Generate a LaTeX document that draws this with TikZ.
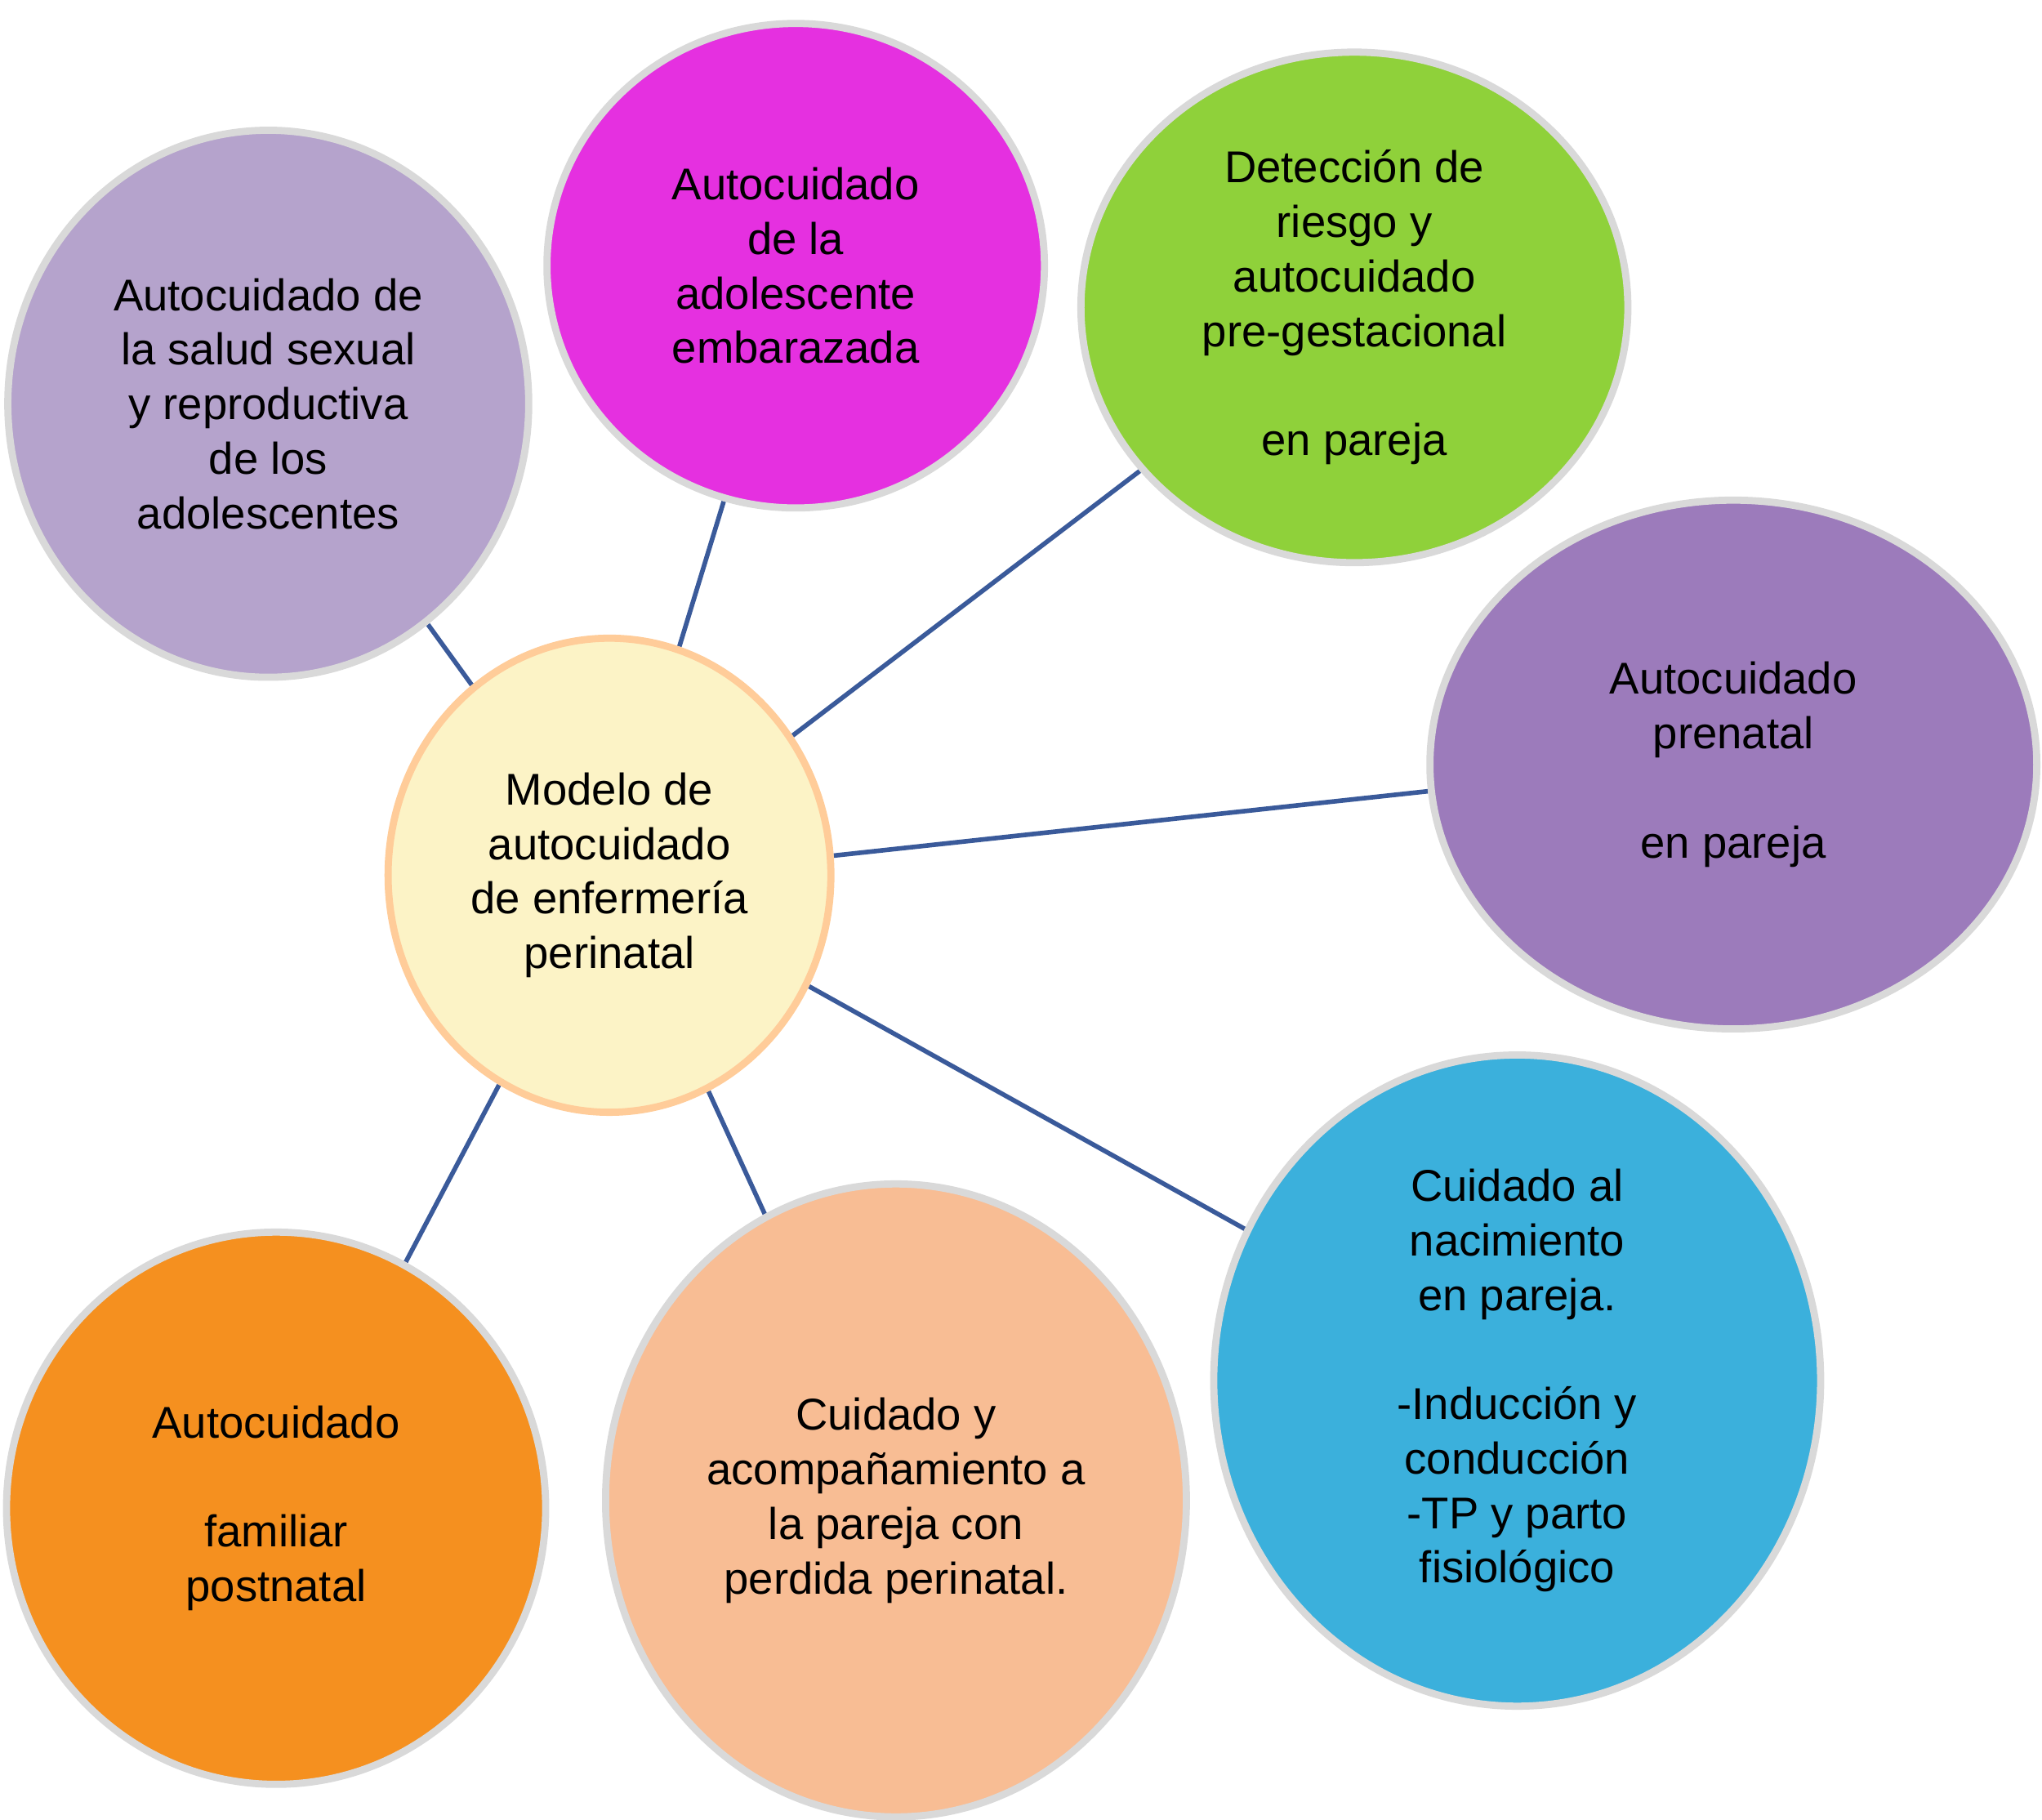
\documentclass[tikz,border=0pt]{standalone}
\usepackage{fontspec}
\setmainfont{Liberation Sans}
\usetikzlibrary{shapes.geometric, positioning, backgrounds}
\definecolor{lavender}{RGB}{181,163,204}
\definecolor{magentab}{RGB}{229,48,224}
\definecolor{greenb}{RGB}{143,209,58}
\definecolor{purpleb}{RGB}{156,123,187}
\definecolor{blueb}{RGB}{59,176,220}
\definecolor{peachb}{RGB}{248,189,148}
\definecolor{orangeb}{RGB}{245,144,31}
\definecolor{centerb}{RGB}{252,243,198}
\definecolor{linkb}{RGB}{58,90,154}

\begin{document}
\begin{tikzpicture}[
    x=0.01594cm, y=-0.01594cm,
    bubble/.style={ellipse, draw=white!85!black, line width=2.5pt, inner sep=0pt, align=center, font=\fontsize{15.5}{19}\selectfont},
    link/.style={draw=linkb, line width=1.6pt}
]
\useasboundingbox (0,0) rectangle (1568,1397);

% Central node
\node[bubble, fill=centerb, draw=orange!40, minimum width=340*0.01594cm, minimum height=364*0.01594cm] (model) at (468,672) {Modelo de\\autocuidado\\de enfermería\\perinatal};

% Outer bubbles
\node[bubble, fill=lavender, minimum width=400*0.01594cm, minimum height=420*0.01594cm] (sexual) at (206,310) {Autocuidado de\\la salud sexual\\y reproductiva\\de los\\adolescentes};
\node[bubble, fill=magentab, minimum width=382*0.01594cm, minimum height=372*0.01594cm] (teen) at (611,204) {Autocuidado\\de la\\adolescente\\embarazada};
\node[bubble, fill=greenb, minimum width=420*0.01594cm, minimum height=392*0.01594cm] (risk) at (1040,236) {Detección de\\riesgo y\\autocuidado\\pre-gestacional\\[19pt]en pareja};
\node[bubble, fill=purpleb, minimum width=466*0.01594cm, minimum height=406*0.01594cm] (prenatal) at (1331,587) {Autocuidado\\prenatal\\[19pt]en pareja};
\node[bubble, fill=blueb, minimum width=466*0.01594cm, minimum height=500*0.01594cm] (birth) at (1165,1060) {Cuidado al\\nacimiento\\en pareja.\\[19pt]-Inducción y\\conducción\\-TP y parto\\fisiológico};
\node[bubble, fill=peachb, minimum width=446*0.01594cm, minimum height=486*0.01594cm] (loss) at (688,1152) {Cuidado y\\acompañamiento a\\la pareja con\\perdida perinatal.};
\node[bubble, fill=orangeb, minimum width=414*0.01594cm, minimum height=424*0.01594cm] (family) at (212,1158) {Autocuidado\\[19pt]familiar\\postnatal};

% Links
\begin{scope}[on background layer]
\draw[link] (model) -- (sexual);
\draw[link] (model) -- (teen);
\draw[link] (model) -- (risk);
\draw[link] (model.5) -- (prenatal.185);
\draw[link] (model) -- (birth);
\draw[link] (model) -- (loss);
\draw[link] (model) -- (family);
\end{scope}

\end{tikzpicture}
\end{document}
